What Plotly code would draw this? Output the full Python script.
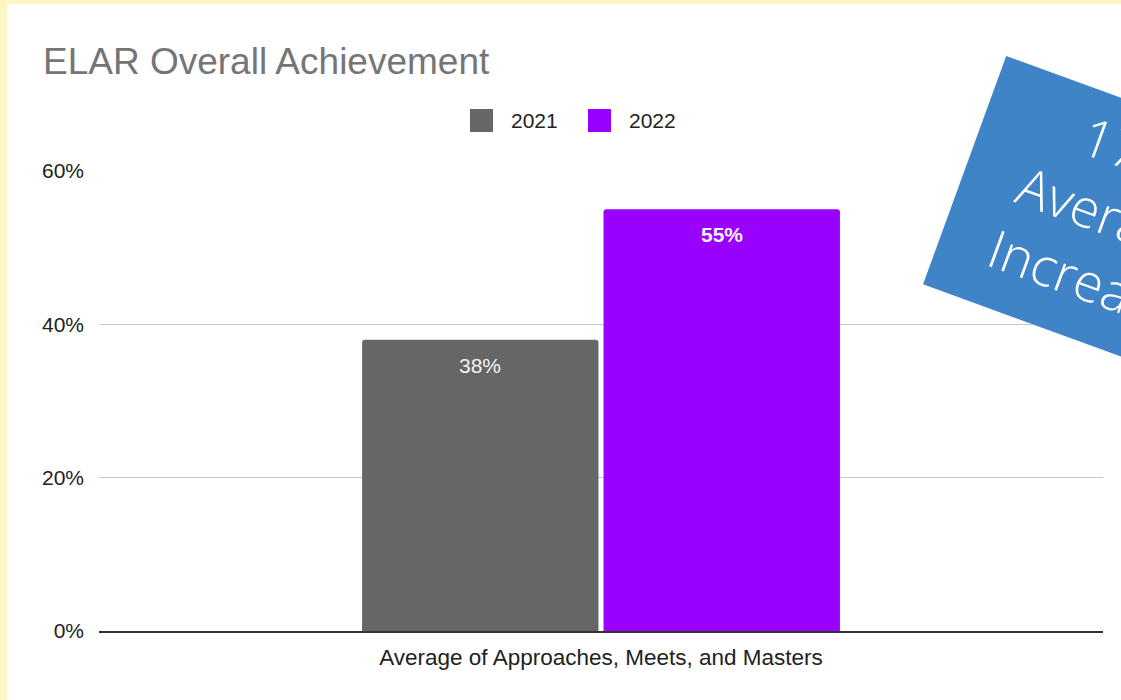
import plotly.graph_objects as go

# Chart data
categories = ["Average of Approaches, Meets, and Masters"]
series_names = ["2021", "2022"]
series_values = [[0.38], [0.55]]
series_colors = ["#666666", "#9900FF"]
y_ticks = [0, 0.2, 0.4, 0.6]
callout_lines = ["17%", "Average", "Increase"]

W, H = 1121, 700
PLOT_L, PLOT_R, PLOT_T, PLOT_B = 99, 1103, 171, 631
BARGAP = 0.519
BARGROUPGAP = 0.021
FONT = "Liberation Sans, Arial"


def px_x(p):
    return (p - PLOT_L) / (PLOT_R - PLOT_L)


def px_y(p):
    return (PLOT_B - p) / (PLOT_B - PLOT_T)


fig = go.Figure()
for name, vals, color in zip(series_names, series_values, series_colors):
    fig.add_trace(go.Bar(
        x=categories, y=vals, name=name,
        marker=dict(color=color, line=dict(width=0)),
        showlegend=False, hoverinfo="skip",
    ))

annotations = []
shapes = []

# value labels inside the top of each bar
slot = (1 - BARGAP) / len(series_names)
for i, (vals, name) in enumerate(zip(series_values, series_names)):
    offset = -(1 - BARGAP) / 2 + slot * (i + 0.5)
    for j, v in enumerate(vals):
        label = f"{v:.0%}"
        if i == len(series_names) - 1:
            label = f"<b>{label}</b>"
        annotations.append(dict(
            x=j + offset, y=v, xref="x", yref="y",
            text=label, showarrow=False, yanchor="top", xanchor="center",
            yshift=-12,
            font=dict(family=FONT, size=21, color="#f2f2f2"),
        ))

# legend
legend_sq_x = [470, 588]
legend_txt_x = [509, 627]
for sx, tx, name, color in zip(legend_sq_x, legend_txt_x, series_names, series_colors):
    shapes.append(dict(
        type="rect", xref="paper", yref="paper",
        x0=px_x(sx), x1=px_x(sx + 23), y0=px_y(132), y1=px_y(109),
        fillcolor=color, line=dict(width=0), layer="above",
    ))
    annotations.append(dict(
        x=px_x(tx), y=px_y(121), xref="paper", yref="paper",
        text=name, showarrow=False, xanchor="left", yanchor="middle",
        font=dict(family=FONT, size=21, color="#222222"),
    ))

# rotated callout box (tilted 20 degrees clockwise)
annotations.append(dict(
    x=px_x(1107), y=px_y(222), xref="paper", yref="paper",
    text="<br>".join(callout_lines), showarrow=False,
    xanchor="center", yanchor="middle", align="center", valign="top",
    width=286, height=226, borderpad=8, textangle=20,
    bgcolor="#3E84C6",
    font=dict(family="Open Sans", size=53, color="white", weight=300),
))

# pale yellow frame strips at the left and top edges
shapes.append(dict(type="rect", xref="paper", yref="paper",
                   x0=px_x(-5), x1=px_x(7), y0=px_y(H + 5), y1=px_y(-5),
                   fillcolor="#FEF6C0", line=dict(width=0), layer="above"))
shapes.append(dict(type="rect", xref="paper", yref="paper",
                   x0=px_x(-5), x1=px_x(W + 5), y0=px_y(4), y1=px_y(-5),
                   fillcolor="#FEF6C0", line=dict(width=0), layer="above"))

fig.update_layout(
    width=W, height=H,
    margin=dict(l=PLOT_L, r=W - PLOT_R, t=PLOT_T, b=H - PLOT_B, pad=0),
    paper_bgcolor="white", plot_bgcolor="white",
    barmode="group", bargap=BARGAP, bargroupgap=BARGROUPGAP,
    barcornerradius=3,
    title=dict(
        text="ELAR Overall Achievement", xref="container", yref="container",
        x=43 / W, xanchor="left", y=1 - 61 / H, yanchor="middle",
        font=dict(family=FONT, size=37, color="#757575"),
    ),
    xaxis=dict(
        type="category", range=[-0.5, 0.5],
        showgrid=False, zeroline=False,
        showline=True, linecolor="#333333", linewidth=2,
        ticks="outside", ticklen=5, tickcolor="rgba(0,0,0,0)",
        tickfont=dict(family=FONT, size=22.5, color="#222222"),
    ),
    yaxis=dict(
        range=[0, 0.6], tickvals=y_ticks, tickformat=".0%",
        showgrid=True, gridcolor="#c8c8c8", gridwidth=1,
        zeroline=False, showline=False,
        ticklabelstandoff=14,
        tickfont=dict(family=FONT, size=21, color="#222222"),
    ),
    annotations=annotations,
    shapes=shapes,
    showlegend=False,
)

fig.write_html("out.html")
